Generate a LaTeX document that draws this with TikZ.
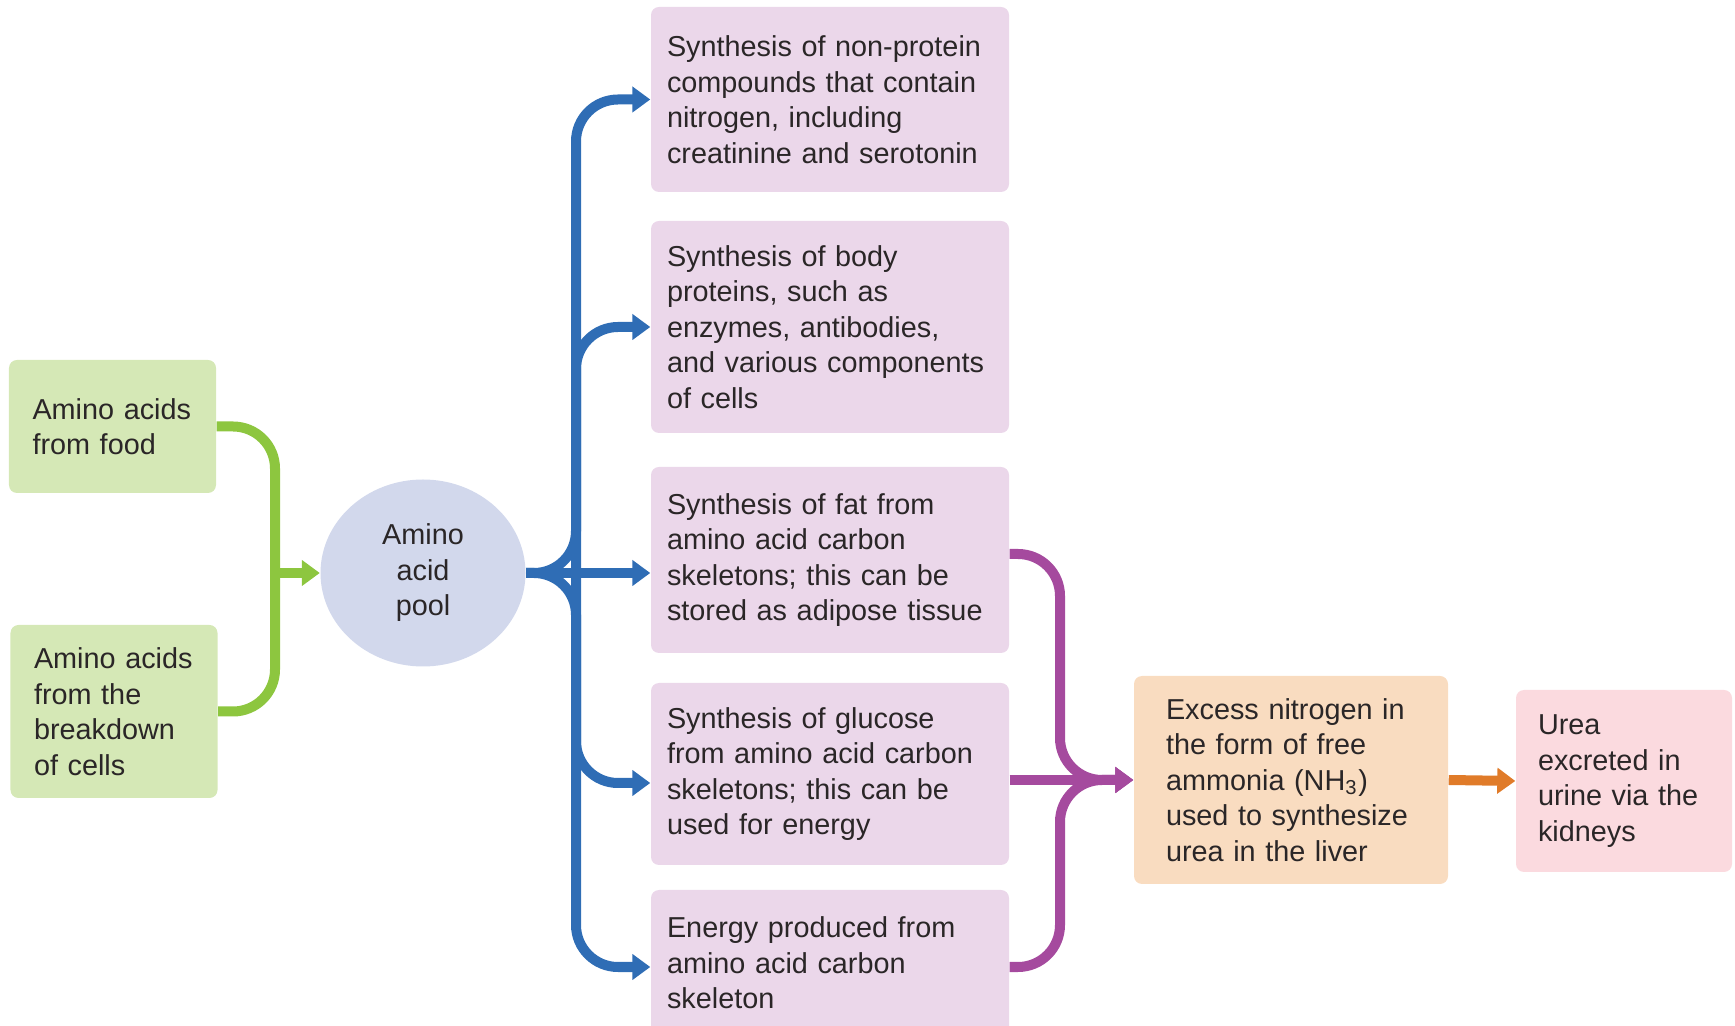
\documentclass[tikz,border=0pt]{standalone}
\usepackage{fontspec}
\setmainfont{Liberation Sans}
\usepackage{xcolor}
\usetikzlibrary{arrows.meta,shapes.geometric}
\hyphenpenalty=10000

\definecolor{textgray}{HTML}{2A2627}
\definecolor{greenfill}{HTML}{D5E8B6}
\definecolor{greenline}{HTML}{8DC63F}
\definecolor{poolfill}{HTML}{D2D8EC}
\definecolor{pinkfill}{HTML}{EBD7EA}
\definecolor{blueline}{HTML}{2F6DB5}
\definecolor{purpleline}{HTML}{A54A9E}
\definecolor{orangefill}{HTML}{F9DCC0}
\definecolor{orangeline}{HTML}{E07B29}
\definecolor{ureafill}{HTML}{FBDADF}

\begin{document}
\begin{tikzpicture}[font=\fontsize{8.2}{10.1}\selectfont,
        every node/.style={text=textgray},
        box/.style={rounded corners=0.08cm, align=left, inner ysep=0pt},
        greenbox/.style={box, fill=greenfill, text width=1.6cm, inner xsep=0.235cm},
        pinkbox/.style={box, fill=pinkfill, text width=3.26cm, inner xsep=0.16cm},
        link/.style={line width=0.1cm, rounded corners=0.42cm},
        linkarrow/.style={-{Triangle[length=0.18cm,width=0.25cm]}},
        greenlink/.style={link, draw=greenline},
        bluelink/.style={link, draw=blueline},
        purplelink/.style={link, draw=purpleline},
        orangelink/.style={link, draw=orangeline}]
        \useasboundingbox (0,0) rectangle (17.35,-10.26);

        % Sources
        \node[greenbox, minimum height=1.33cm] (food) at (1.125,-4.265) {Amino acids\\from food};
        \node[greenbox, minimum height=1.73cm] (breakdown) at (1.14,-7.115) {Amino acids\\from the\\breakdown\\of cells};

        % Amino acid pool
        \node[ellipse, fill=poolfill, minimum width=2.05cm, minimum height=1.87cm, inner sep=0pt, align=center] (pool) at (4.23,-5.73) {Amino\\acid\\pool};

        % Uses of the pool
        \node[pinkbox, minimum height=1.85cm] (nitro) at (8.30,-0.995) {Synthesis of non-protein\\compounds that contain\\nitrogen, including\\creatinine and serotonin};
        \node[pinkbox, minimum height=2.12cm] (proteins) at (8.30,-3.27) {Synthesis of body\\proteins, such as\\enzymes, antibodies,\\and various components\\of cells};
        \node[pinkbox, minimum height=1.86cm] (fat) at (8.30,-5.60) {Synthesis of fat from\\amino acid carbon\\skeletons; this can be\\stored as adipose tissue};
        \node[pinkbox, minimum height=1.82cm] (glucose) at (8.30,-7.74) {Synthesis of glucose\\from amino acid carbon\\skeletons; this can be\\used for energy};
        \node[pinkbox, minimum height=1.46cm] (energy) at (8.30,-9.63) {Energy produced from\\amino acid carbon\\skeleton};

        % Nitrogen and urea
        \node[box, fill=orangefill, text width=2.5cm, inner xsep=0.32cm, minimum height=2.08cm] (liver) at (12.91,-7.80) {Excess nitrogen in\\the form of free\\ammonia (NH\textsubscript{3})\\used to synthesize\\urea in the liver};
        \node[box, fill=ureafill, text width=1.72cm, inner xsep=0.22cm, minimum height=1.82cm] (urea) at (16.24,-7.81) {Urea\\excreted in\\urine via the\\kidneys};

        \coordinate (gbar) at (2.75,-5.73);
        \coordinate (btrunk) at (5.76,-5.73);
        \coordinate (ptrunk) at (10.60,-7.80);

        % Into the pool
        \draw[greenlink] (food.east) -| (gbar) |- (breakdown.east);
        \draw[greenlink, linkarrow] (gbar) -- (pool.west);

        % Out of the pool
        \draw[bluelink, linkarrow] (pool.east) -- (pool.east -| fat.west);
        \draw[bluelink, linkarrow] (pool.east) -- (btrunk) |- (nitro.west);
        \draw[bluelink, linkarrow] (btrunk) |- (proteins.west);
        \draw[bluelink, linkarrow] (btrunk) |- ([yshift=-0.09cm]glucose.west);
        \draw[bluelink, linkarrow] (pool.east) -- (btrunk) |- ([yshift=-0.04cm]energy.west);

        % Towards the liver
        \draw[purplelink, linkarrow] ([yshift=0.06cm]fat.east) -| (ptrunk) -- (liver.west);
        \draw[purplelink, linkarrow] ([yshift=-0.04cm]energy.east) -| (ptrunk) -- (liver.west);
        \draw[purplelink, linkarrow] (glucose.east |- liver.west) -- (liver.west);

        % Excretion
        \draw[orangelink, linkarrow] (liver.east) -- (urea.west);
    \end{tikzpicture}
\end{document}
